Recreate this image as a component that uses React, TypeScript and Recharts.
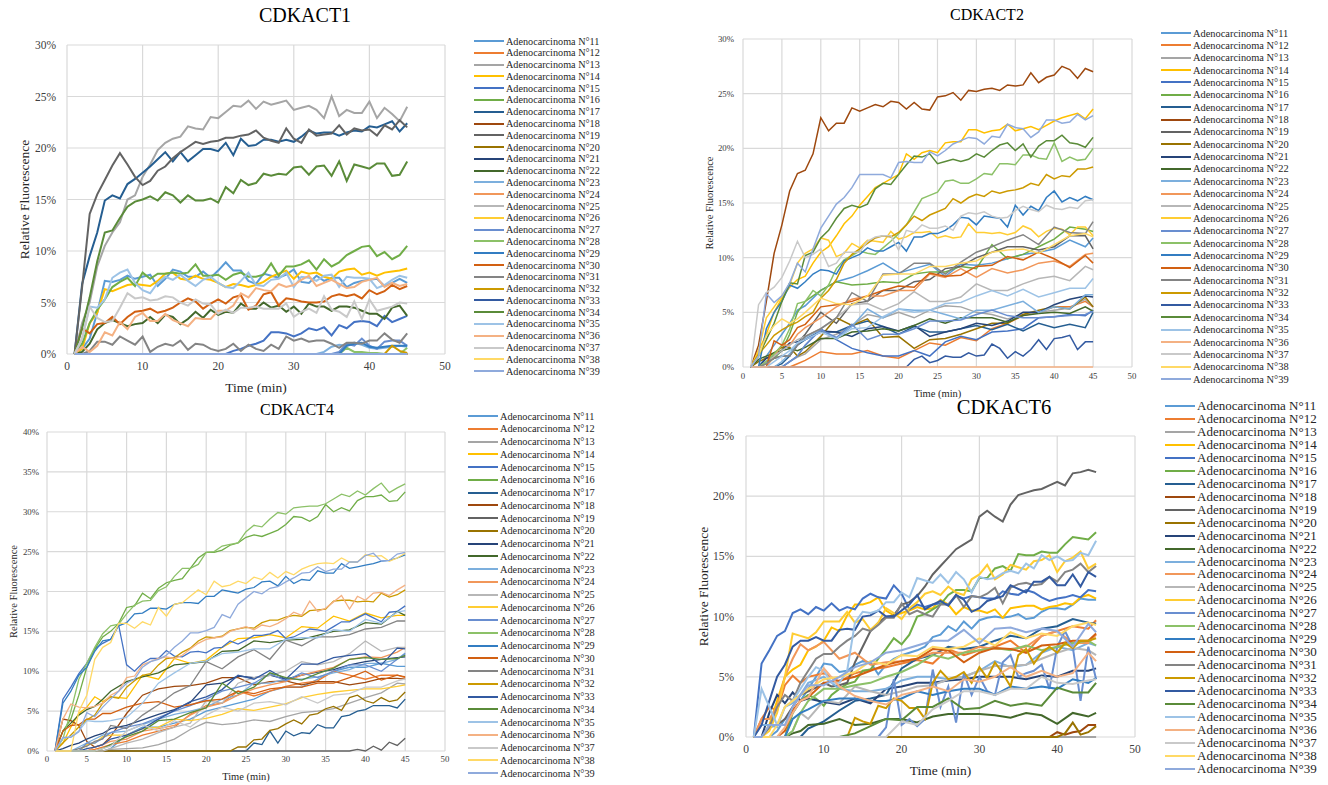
import { LineChart, Line, XAxis, YAxis, CartesianGrid } from 'recharts'

const patients = [11, 12, 13, 14, 15, 16, 17, 18, 19, 20, 21, 22, 23, 24, 25, 26, 27, 28, 29, 30, 31, 32, 33, 34, 35, 36, 37, 38, 39]
const lineColors = ['#5B9BD5', '#ED7D31', '#A5A5A5', '#FFC000', '#4472C4', '#70AD47', '#255E91', '#9E480E', '#636363', '#997300', '#264478', '#43682B', '#7CAFDD', '#F1975A', '#B7B7B7', '#FFCD33', '#698ED0', '#8CC168', '#327DC2', '#D26012', '#848484', '#CC9A00', '#335AA1', '#5A8B39', '#9DC3E6', '#F4B183', '#C9C9C9', '#FFD966', '#8FAADC']

// series with 27 values are read at these minutes, the others are the last minutes up to 45 (zero before that)
const sparseMinutes = [1, 2, 3, 4, 5, 6, 7, 8, 10, 12, 14, 16, 18, 20, 22, 24, 26, 28, 30, 32, 34, 36, 38, 40, 42, 44, 45]

// CDKACT1
const a1n11 = [.5,1.5,4,7.1,7,7.2,7.6,7.3,7.5,7.7,6.6,7.3,8.2,8,7.5,7.5,8,7.4,8.1,8.9,8.1,8.1,7.1,6.8,7.8,7.6,7.4,7.7,8.2,7,6.9,7.6,7.1,7.4,7.4,6.5,6.9,7.1,7.2,7.3,6.6,6.9,7.3,6.9]
const a1n13 = [3,5,8.5,10.5,11.8,12.8,15,15.4,17.2,18.4,19.8,20.5,20.9,21.1,22.1,21.9,21.8,23,22.9,23.5,24.1,24,24.6,23.8,24.5,24.2,24.4,24.6,23.7,23.9,24.1,23.7,22.9,25,23.1,23.7,23.4,23.4,24.5,22.9,23.9,23.3,22.6,24]
const a1n14 = [.5,3,4,6.3,6.1,6.4,6.7,6.8,6.7,6.6,7.1,7.8,7.9,7.3,7.2,7.6,7.3,7.2,6.9,6.5,6.8,6.7,6.5,6.7,7,7.5,7.8,8.1,7.3,8,7.8,7.9,7.5,7.3,8,8.2,8.3,7.7,7.9,7.6,7.9,8,8.1,8.3]
const a1n15 = [.3,.5,.8,1,1.3,2.1,2.1,2,1.7,2,2.5,2.3,2.6,1.8,2.8,2.5,3.1,3.2,3.1,2.7,3.7,3.1,3.4,3.7]
const a1n16 = [1,3,4.3,5.3,6.5,7,7.4,6.6,7.9,7.3,7.8,7.8,7.9,7.8,7.9,8.7,7.6,7.6,7.7,7.2,7.7,7.9,7.5,7.5,7.7,8.8,7.6,8.5,8.5,8.7,9.1,8.2,9.2,8.5,8.9,9.6,10,10.4,10.5,9.5,9.9,9.2,9.6,10.5]
const a1n17 = [6.8,9.5,11.8,14.9,15.4,15.1,16.5,17,17.6,18.2,18.9,19.6,18.7,19.6,18.7,19.3,19.9,19.9,19.7,20.5,19.3,20.9,20.2,20.3,20.8,20.8,20.6,20.8,20.6,21.1,21.7,21.4,21.5,21.5,21.2,21.5,21.7,21.6,22.1,22,22.3,22.6,21.6,22.4]
const a1n19 = [6.5,13.6,15.5,16.9,18.3,19.5,18.4,17.2,16.4,16.8,17.8,18.2,19,19.6,20.1,20.6,20.4,20.6,20.7,21,21,21.2,21.3,21.7,21,20.7,20.5,21.9,20.9,20.5,21.8,21.2,21.3,21.4,22.2,21.3,21.9,21.7,21.8,21.2,22.2,21.8,22.7,22]
const a1n22 = [.2,1,2.4,3,3.3,3,2.7,2.9,3,3.6,3,3.8,3.6,2.9,3.4,4.1,3.5,4.3,3.8,4.1,4,4.9,4.4,4.4,5,4.5,4.7,4.1,4.6,3.9,4.9,4.6,4.6,4.2,4.6,4.6,4.5,4.2,3.9,3.9,3.4,4.5,4.7,3.7]
const a1n23 = [.2,.7,.9,.8,1.1,.9,.6,.5,.6,.7,.8,.7]
const a1n27 = [.2,1,.8,1.5,.8,.5,1.2,1.3,1.3,.8]
const a1n28 = [.6,.2,.2,.1,.1,0,0,0,.6]
const a1n29 = [.8,1,1.1,.7,.6,.7,.8,.8,.8]
const a1n30 = [2.5,2,2.9,3,3.6,2.9,3.6,4.1,4.2,4.4,4,4.2,4.5,5,5.4,5.1,4.4,4.9,5.3,4.9,5.5,5.7,4.3,4.7,5.8,6,4.7,5.4,5.3,5.1,5,5,5.1,5.6,5.8,5.6,5.8,5.4,6.2,5.8,6.1,6.7,6.3,6.6]
const a1n31 = [0,.3,1.2,1.2,.9,1.7,1.3,.9,1.7,.2,.7,1,.8,1.3,.4,1,.9,.5,.3,.5,1,.3,.9,.5,.3,.9,.5,1.7,1.3,1.5,1.2,1.3,1.3,1,.6,1.1,1.1,1,1.3,1.3,2,1.4,1.1,2]
const a1n32 = [0,.8,.3,.1]
const a1n34 = [2.5,5.5,9,11.8,12,13.2,14.3,14.8,15,15.3,14.9,15.7,15.4,14.7,15.4,14.9,14.9,15.1,14.7,16.2,15.6,16.9,16.4,16.6,17.5,17.3,17.5,17.4,18.1,18.2,17.4,18.2,18.3,17.3,18.7,16.8,18.4,18.2,18,18.5,18.5,17.3,17.4,18.7]
const a1n35 = [1.5,4.6,4.5,5.3,7.4,7.9,8.2,6.9,6.2,5.9,6.9,7.5,7.2,7.7,7.1,6.6,7.2,7.5,6.9,6.5,6.4,7.1,7.9,6.7,6.6,7.2,7.3,7.9,6.5,7.5,7.4,7.1,7.6,7.7,6.5,7.5,7.4,7.4,7.3,6.4,6.7,7.2,7.6,7.4]
const a1n36 = [.7,.2,.8,2.1,1.8,3.1,2.4,3.6,4,3.2,3.2,3.9,3.3,3,2.7,3.5,3.4,3.4,4.2,4.2,4.7,5.9,5.5,6.4,6.2,6.1,6.8,6.5,6.7,7.2,7.6,6.6,6.9,7.2,6.8,6.4,6.5,7,7.2,7.4,6.5,6.9,6.6,6.8]
const a1n37 = [1.5,4.6,3.5,3.1,3.2,4.5,5.9,5.4,5.5,5.2,5.3,5.6,5.5,5,4.7,5.3,4.9,4.8,3.9,4.3,4,4.5,4.5,4.6,4.4,4.4,4.4,4.9,3.6,4.1,4.4,4,5.6,4.3,4.1,3.6,5.1,3.4,5.3,4.2,4.4,4.6,5,4.9]
const act1Series = [a1n11, [], a1n13, a1n14, a1n15, a1n16, a1n17, [], a1n19, [], [], a1n22, a1n23, [], [], [], a1n27, a1n28, a1n29, a1n30, a1n31, a1n32, [], a1n34, a1n35, a1n36, a1n37, [], []]

// CDKACT2
const a2n11 = [0,0,1,2,3,4,5.2,5.6,7,7.8,8.2,8.8,9.5,8.6,9,9.4,8.3,9.4,9.3,9.5,9.9,10.3,10.5,10.8,11.6,11,11.8]
const a2n12 = [0,0,0,0,0,0,.3,.6,1.4,1.2,1.2,1.5,1,.8,1.5,2.2,2,2.7,2.4,3.5,4,4.7,5,5.5,5.5,6,5.5]
const a2n13 = [0,0,0,0,0,.5,.9,1.2,2.5,3,3.8,4.8,4.5,5,4.5,5.2,5.6,5.5,5,4.8,4.4,4.8,5,5.2,5.4,6.2,5.5]
const a2n14 = [1.5,3,5,6.3,7.3,8,8.3,9.5,10.5,11,12,13.1,13.8,14.8,15.6,16.4,16.8,17.2,17.6,19.5,19,19.6,19.8,19.6,20.5,20.6,20.6,21.7,21.7,21.4,21.6,21.7,22.2,21.6,21.8,22,21.7,22.1,22.5,22.8,23,23.2,22.7,23.6]
const a2n15 = [0,0,0,0,0,.5,1,2,3.5,2.5,1.7,1.3,1,1,1.5,1,2.3,2.8,2.5,3.2,3.3,3.5,4.5,4.6,4.8,4.7,5.2]
const a2n16 = [0,0,.3,.8,1.5,3,5,6,7,7.8,7.5,7.6,7.8,7.7,8.5,8.7,8.7,9.2,9,11.2,9.9,10.3,11,11.7,12.8,12.6,12.4]
const a2n17 = [0,0,0,0,.3,1,2,2.5,3.2,3.2,3.8,4.2,3.7,3,3.7,3.2,3.2,3.5,3.8,3.4,3.9,3.3,4,3.6,3.9,3.6,5]
const a2n18 = [2,6,10.4,13,16.1,17.7,18,19.5,22.8,21.6,22.3,22.3,23.7,23.4,23.7,24,23.8,24.3,24.2,23.6,24.2,23.6,23.5,24.7,24.8,25.1,24.4,25.3,25.2,25.4,25.5,25.3,25.8,25.7,25.8,26.9,26,26.5,26.7,27.5,27.2,26.4,27.3,27]
const a2n19 = [0,0,.5,.8,1,1,2.2,3,5,4,5.8,6,7,7,7.8,8,9,9.2,10,10.5,11,11,10.7,11,12,12,10.8]
const a2n20 = [0,.5,.8,1.3,1.8,1.8,1,1.4,2.8,4.5,3.8,4.4,2.7,2.8,1.7,2.5,2.6,3,3.5,4,4,4.8,5.2,5.5,5.3,6.4,5.5]
const a2n21 = [0,0,.8,1,1.5,2.2,2.3,2.5,3.3,3.2,2.8,3.5,3.7,3.3,3.8,2.8,3.2,3.5,4,3.8,4.2,5,5,5.7,6.2,6.5,6.4]
const a2n22 = [0,.7,1,1.3,1.5,1.7,1.5,1.8,2.6,2.6,3.2,3.3,3.5,3.3,3.8,4.4,4,4.5,4.5,4.5,4.1,4.7,4.9,5,4.9,5.5,5.1]
const a2n23 = [0,0,0,0,.5,1.2,2.2,2.7,3.4,2.6,3.7,5.3,4.5,5.3,5.2,5.2,4.8,4.4,5.2,5.2,5.6,6,5,5.5,5.3,6.6,6.6]
const a2n24 = [0,0,0,1,2,2,3,3.6,4.5,5.5,6.2,6.5,6.5,7,7,8.5,8.2,9,8.2,9,8.6,8.9,9.5,9.7,9.2,10.3,10.4]
const a2n25 = [0,0,.5,1,1.5,2,2.5,2.8,3.5,4.5,5.7,5.8,5.2,5.8,6.9,6,6,6.4,7.6,7,7,7.6,8.1,8.3,7.9,9.2,8.9]
const a2n26 = [1.5,4.5,5.5,6.5,7.5,9.5,10.4,10.8,11.8,11.6,10.1,10.4,11.3,10.9,11.6,11.5,11.4,12.4,11.7,11.9,12.3,12.3,12.4,11.8,12,11.8,11.9,13.1,12.3,12.3,12.2,12.3,12.1,12.3,12.9,12.6,11.9,12.4,12.7,12.6,12.1,12.8,12.8,12]
const a2n27 = [0,0,0,0,0,.5,1,2,3.4,2.7,3.9,2.5,3,3,3.5,4.2,4.2,4.3,4.8,5.2,4.7,4.5,4.5,4.6,4.7,4.8,5.1]
const a2n28 = [.5,1.2,2,3.5,5.8,6,7,6.5,7.5,9,9.8,10.2,10.6,10.4,10.3,10.9,11.5,12.2,13,14.2,15.4,15.7,16,17,17.1,16.8,16.8,17.2,17.7,17.6,18.6,18.6,18.5,19.4,19.4,19.1,19,20.5,18.8,19.2,18.9,19,20]
const a2n29 = [3.5,5,6,7.5,7.2,7.8,8.5,8.9,8.8,8.5,9.7,10,10.3,10.9,10.6,10.6,11,11.4,10.6,11.9,11.9,12.2,12.2,12.5,13,13.7,13.6,13,13.8,13.7,13.6,12.8,14.8,13.9,14.7,14.3,15.5,16.1,15.1,15.5,15.2,15.6,15.3]
const a2n30 = [0,0,0,2.4,2,2.5,3.6,3.9,5.5,5.7,6,6.5,7,7.4,7.3,8.6,8.3,8.4,9.2,9.3,10.1,9.8,10.5,9.9,9.1,10.2,9.5]
const a2n31 = [0,0,.3,.8,1,1,2,2.8,3.5,4.5,6.8,6,8.5,8.5,9.5,9.5,8.5,9.6,10.5,11,11.6,12.1,11.2,12.8,12.3,12.2,13.3]
const a2n32 = [1.2,2,2.9,3.4,3.8,4.1,4.6,5,6.3,7,8,9.5,10.3,10.8,11.3,11.8,12,11.9,12.3,13,13.8,13.4,13.9,14.2,14.5,15.4,15,15.5,15.8,15.6,16.1,15.9,16.1,16.2,16.4,16.8,16.6,17.6,17.2,17.5,17.4,18.1,18.1,18.3]
const a2n33 = [.7,1,.4,.6,1,.9,.9,1.3,1,1.1,2.1,1.7,.8,1.4,1,1.6,2.5,1.6,2.6,2.7,2.9,1.6,2.3,2.3]
const a2n34 = [1,2.5,4,6,7.7,7.6,10.2,10.5,11.8,12.5,13.6,14.5,14.8,14.6,14.9,16.3,16.8,16.7,17.6,18.5,19.3,19.2,19.5,18.6,18.8,19,18.8,19,19.5,19.2,19.8,20.3,20.5,19.8,20.4,19.2,20.2,20.7,20.7,21.2,20.5,20.4,20.1,21]
const a2n35 = [0,0,0,.5,1,1.5,2.2,2.5,3.2,2.6,3.5,3.6,4.6,5.3,5,5.2,5.8,5.9,6.5,7,6.5,7.1,6.4,6.8,7.2,7.2,8.1]
const a2n37 = [5.7,6.8,7.3,8.2,9.7,11.5,10,10.3,10.8,9.2,9.5,10.5,10.5,10.5,11.5,11.9,12,12,10.7,12.5,12.3,13,12.7,12.7,12.9,12.5,13.8,14.1,14,14.2,13.8,13.6,13.7,14.3,14.7,14.4,14.2,14.8,14.5,14.4,14.6,14.5,15.2,15.3]
const a2n38 = [0,1,2.9,3.8,4.4,4,4.4,5,6.3,5.8,5.7,6.5,8.4,8.5,8.5,9.2,9.2,9.5,9.7,10.5,10.7,10.8,10.4,11.2,12,12.2,11.9]
const a2n39 = [1,6.7,5.9,6.5,7.7,9.5,8.7,10.8,12.7,13.8,14.9,15.5,16.4,17.6,17.6,17.6,17.6,17.3,18.7,18.8,18.7,18.7,19.7,19.3,19.8,20.4,20.7,21,20.9,20.4,21.1,21,22.2,21.9,21.8,21,21.5,22.6,22.6,22.3,22.4,23.1,22.6,23]
const act2Series = [a2n11, a2n12, a2n13, a2n14, a2n15, a2n16, a2n17, a2n18, a2n19, a2n20, a2n21, a2n22, a2n23, a2n24, a2n25, a2n26, a2n27, a2n28, a2n29, a2n30, a2n31, a2n32, a2n33, a2n34, a2n35, [], a2n37, a2n38, a2n39]

// CDKACT4
const a4n11 = [0,0,0,0,0,0,0,.3,2,3,3,3.5,4,5,5.5,6,6.5,7.5,8,8,9,10,10.5,10.5,11,10.6,10.6]
const a4n12 = [0,0,0,0,0,.2,.5,.8,1.2,2,2.5,3,4.6,5.7,6,7.5,6.9,7.5,8.1,8.5,8.8,10,9.5,9,9.5,9.5,9.2]
const a4n13 = [0,0,0,0,0,0,0,.2,.3,.4,.8,1.5,2.7,3.6,3.3,3.5,3.9,3.7,4.3,4.8,5,5.3,6,6.7,7.3,8.5,8.4]
const a4n14 = [0,1,3,4.7,5.5,6.8,6.2,6.8,6.6,9.5,9,11.6,11,11.4,13,14.1,14.2,14.6,14.2,15.6,15.4,16.9,16.3,17.3,16.7,17,17]
const a4n15 = [6.5,8,9.7,11,12.8,13.5,14,15.8,10.8,10,11,11.6,11.6,12.6,11.9,11.8,12.4,12.5,12.3,12.9,13,13.8,13.4,13.9,14.5,14.5,14.7,15.1,14.1,14.3,14.8,15.3,15.2,15,15.6,16.2,16.2,16.7,17.2,16.7,16.2,17.4,17.5,18.2]
const a4n16 = [2.5,4,7,10.5,12.8,14.3,15,16,18,18.2,19.8,19.1,20.4,21.1,21.4,21.6,22.9,24.2,24.9,24.9,25.2,25.8,26.1,26.8,27.1,26.9,27.3,27.7,28.4,29.4,29.3,28.8,29.4,30.9,30,30.5,30.1,31.4,31.9,31.9,32.1,31.3,31.4,32.5]
const a4n17 = [1,.8,2.5,1,2.5,1.9,2.3,2.2,3.3,2.9,2.9,4.3,4.5,5,5.2,5.7,5.7,5.7,5.4,6.5]
const a4n18 = [0,4,3.8,3.2,1.2,.5,.8,1.8,4.7,7,7.8,8.1,8.2,8.5,9.2,9.2,8.3,8.7,8.8,8.3,8.7,8.7,8.3,8.6,9.1,9.1,9]
const a4n19 = [.2,0,.6,.1,1.1,.7,1.6]
const a4n20 = [.5,.5,1.4,1.5,2.6,2.8,3.4,3.9,3.4,4.5,4.7,5.3,5.6,5.1,6.7,7,6.3,6,6.7,6.2,6.4,7.4]
const a4n21 = [0,.3,.7,1,1.5,1.9,2.2,2.8,3.2,3.9,4.6,5.2,6.1,8.3,8.5,9.4,9.2,9.5,9,9.5,9.9,10.2,10.8,11.2,11.5,11.7,11.8]
const a4n22 = [0,2.5,3.5,4.5,5.2,5.6,6.5,7.5,8.7,9.3,9.8,10.8,11,11.2,12.5,12.6,13.8,13.6,13.9,14,14.5,15,15.2,16.1,15.9,17.5,17]
const a4n23 = [0,0,0,.5,1,1.5,2,2.3,2.5,3.3,4,4.6,5,5.5,6.5,7,8.5,8.5,9,9,9.3,9.8,10.2,11,11,11.5,12.3]
const a4n24 = [0,0,0,0,0,.5,.8,1.2,1.5,2.5,2.8,3.2,4.5,5.5,6,7,7.8,8.3,8.7,9.5,10,10.5,11.5,11.8,11.7,12.4,13]
const a4n25 = [0,0,0,0,0,0,0,.3,1,1.5,2.3,3,3.5,6.3,6,8.5,9.2,9.5,10,11.2,10.8,11.2,12.2,13.8,12.5,13,13]
const a4n26 = [0,0,0,0,.8,1,1.8,2,2,2.8,3,4,3.8,4.1,4.6,5.3,5.1,5.5,5.9,6.7,7.1,7.4,7.6,7.8,7.8,8.1,8.3]
const a4n27 = [0,0,0,0,1,1,1.6,2.3,3,3.4,4.2,5,5.7,6.5,7.5,8,8.5,9.7,8.8,9.8,9.2,10,10.8,10.8,10,11.5,12.2]
const a4n28 = [1.5,5,9,11,13,14.7,15.7,15.9,17.2,18.3,18.8,18.9,20.1,20.6,21.9,22.9,22.9,23.4,24.9,25,25.7,25.9,26.1,27.5,28.3,28.1,29.1,29.9,29.7,30.5,30.6,30.7,30.7,31,31.6,32.2,31.9,32.6,32.1,32.9,33.6,32.4,33,33.5]
const a4n29 = [6,7.5,9.5,10.5,12.5,13.8,14,15.7,16.1,17.2,17.3,17.9,17.9,17.8,18.4,18.6,18.6,18.5,19.4,19.4,20.2,20,19.8,20.3,20.5,21.2,21.3,20.7,21.9,21,21.5,21.4,22.6,22.3,22.3,23.5,22.9,23.1,23.3,23.5,23.8,23.9,24.2,24.6]
const a4n30 = [0,2.5,3.2,3.3,4,4,4.7,4.7,5.5,6,6.2,5.5,5.8,6.3,6.5,7.5,7.2,7.8,8,8,8.5,8.5,9.2,10,8.9,9.5,9.3]
const a4n31 = [0,0,0,.3,.6,1.2,1.5,3.2,2.8,4.5,5.8,7.3,8.2,11.2,10.3,11.8,12.7,11.5,13.9,13.2,14.3,14.3,14.6,15.3,15.5,16.3,16.3]
const a4n32 = [1,2,3,3.9,4.5,6,6.8,6.6,8,8.8,9.5,9.7,10.8,11.6,11.7,12.4,12.9,13.8,14.3,14.2,14.4,15.1,15.3,15.5,15.4,16.1,16.4,16.4,16.8,17,16.9,17.6,17.7,17.8,18.8,18.9,18.9,18.7,18.8,18.7,19.8,19.3,19.6,20.2]
const a4n33 = [0,0,0,0,.3,.5,.8,1.5,2,2.8,4,5.1,6.2,6.8,7.7,9.5,9,10.1,9,10.9,10.9,11.7,12,12.2,10.8,12.9,12.8]
const a4n34 = [0,0,0,0,0,0,.3,.8,1.8,2.5,3.8,4,4.8,5.4,8.5,7.2,8,9.8,9.2,8.9,9.7,10.4,11.5,11.7,11.5,11.6,12]
const a4n35 = [0,1.6,1.8,2.5,3.8,3.7,3.7,3.8,4.2,6,8.5,9.8,11,11.3,12.2,12.4,12.8,12.8,14,14.2,14.2,15.2,15,16.5,16,17.4,17.6]
const a4n36 = [4,5.9,5.5,5.4,5.6,6,7,7.5,9.2,9.4,10.8,11.2,11.6,11.8,11.6,12,12.8,13.5,14,14.2,14.3,15,15.3,15.6,15.2,15.8,15.6,16,16.6,17.4,17,18.8,17.5,17.9,18.7,19.5,17.8,19.4,18.9,19.8,19.9,19.5,20.2,20.8]
const a4n37 = [0,0,0,0,0,0,.3,.6,2.5,3.3,2.5,3.8,3,4.5,5.5,5,6,6.2,5.8,6.8,6,7,7.2,8,8,8.8,9]
const a4n38 = [0,5,7,11.5,13,13.6,16,16,15.4,16.2,15.8,18,16.9,18.4,18.6,19.4,20.2,19.6,21.3,20.6,20.8,21.3,21,21.8,21.5,22.4,21.7,22.5,22.1,22.8,23.2,23.5,23.6,23.5,24.2,23.7,23.7,24.6,24.4,24.5,23.8,24.2,24.8]
const a4n39 = [1.7,1.7,2.4,4.8,4.3,5.5,6.5,7.5,8.5,9,10.5,11.2,11.5,12,13,13.8,14.8,14.8,15.1,15.5,17.1,16.7,18.4,19.2,20,19.7,20.4,20.6,21.2,21.7,22.3,22.4,23.1,22.5,22.8,22.8,23.7,23.7,24.5,24.8,23.8,23.9,24.7,24.9]
const act4Series = [a4n11, a4n12, a4n13, a4n14, a4n15, a4n16, a4n17, a4n18, a4n19, a4n20, a4n21, a4n22, a4n23, a4n24, a4n25, a4n26, a4n27, a4n28, a4n29, a4n30, a4n31, a4n32, a4n33, a4n34, a4n35, a4n36, a4n37, a4n38, a4n39]

// CDKACT6
const a6n11 = [0,0,0,.5,1.5,2,3,4,5,6.1,6,5.4,5.5,6,6.3,6.2,5.2,6,6.5,6.8,7,7.2,7.5,8.3,8.5,9.2,8.8,9.6,9,9.7,9.9,10,9.9,10,10.2,9.8,9.9,10.4,10.7,10.7,10.6,11,11.5,11.4,11.4]
const a6n12 = [0,1.5,2.5,2.2,4.3,5.1,4.5,5,5.3,4.6,5.3,5.6,5.8,6.1,6.4,6.1,7.3,6.8,7.2,7.5,8,7,8.4,8.8,9.2,9,9.7]
const a6n14 = [0,0,1,3,5,5.6,6,7.2,7.5,8,9.1,8.8,10.1,11,11,11.2,11.6,10.5,10.1,10.3,10.5,10.8,10.6,10.7,11.4,11,10.2,10.8,10.5,10.5,10.3,10.6,9.9,10.7,10.8,10.9,10.9,10.6,10.8,10.9,11.1,11,11.6,11.8,11.5]
const a6n15 = [6.1,7.2,8.4,8.8,10.3,10.6,10.2,10.8,10.5,11.1,10.5,10.8,10.6,11.5,11.9,11.6,11.5,12.6,11.9,10.6,11,10.8,11,11.1,11,11.7,11.5,11.7,11.6,11.5,11.5,12.1,11.9,11.8,12.2,12,11.6,11.3,11.5,11.6,11.8,11.6,12.2,12.1]
const a6n16 = [2,3,3.5,3.2,2.6,3.5,4,4.4,4.6,5.5,5.6,6.5,7.3,8.2,7.7,8.5,10,10.2,10.6,11,11.8,12.2,12.2,12.1,13.2,13.2,14,14.2,13.8,15.2,15.1,15.1,15.4,15.3,15.3,16,16.6,16.5,16.4,17]
const a6n17 = [0,0,0,0,0,0,0,.7,1.3,2.2,3,3.2,3.5,5.7,6.5,6.8,7.5,7.3,7.5,8,8.4,8.2,9,9.2,9.8,9.5,9.4]
const a6n18 = [.4,.2,.4,.5,1,1]
const a6n19 = [0,.8,1,1.5,2.5,3.5,3.8,4.1,4.5,4.2,4.3,4.5,6.2,7.5,8.8,9.5,10,10.1,11,11.2,11.7,12.5,13.5,14.2,14.9,15.6,16,16.4,18.3,18.8,18.3,17.9,19.3,20.1,20.3,20.5,20.6,20.9,21.2,20.9,21.9,22,22.2,22]
const a6n20 = [.3,1.2,.2,.4,.9]
const a6n21 = [0,0,2,3.5,2.8,3.7,3,3.2,2.9,2.7,3.2,2.8,4,4.2,4.5,4.5,4.7,4.8,5,5,5,4.8,5.1,5,5.5,5.5,5.7]
const a6n22 = [0,0,0,0,0,.3,.5,1,1.1,1.5,1,1.1,1.5,1.5,1.2,1.7,1.9,1.9,1.9,1.8,1.6,2,1.8,1.1,2,1.7,2]
const a6n23 = [0,1,1,.8,2.5,2.8,3.5,4.5,5,4,3.8,3.8,4,4.7,5,5,4.8,5,5.5,6.3,5.8,6,7,7.5,7.2,7.8,7.6]
const a6n24 = [0,1.5,1.5,2.5,5,6.5,7.7,7.2,7.9,6.5,7,6,6.2,6.3,6.5,7,7,7,7.5,7.3,7.3,7.5,8.4,8.8,7.8,7.8,8.5]
const a6n25 = [0,0,0,0,0,.5,2,1.5,3,2.8,4.2,3.8,3.5,3.8,4.2,4.3,4.8,5,5.5,5.9,5.9,6,6.5,7,7.4,7.2,6.8]
const a6n26 = [0,.5,2,5,8.6,8.4,8.2,8.7,9.6,9.6,9.6,10.4,9.5,9.8,8.9,9.5,10.7,10.3,9.8,10.7,11.2,11.9,12.1,11.8,12.5,12,11.8,13.1,13.5,14.3,13.1,13.5,14.3,14.1,13.9,14.6,14.7,15.1,13.7,14.6,14.9,15.4,14,14.4]
const a6n27 = [0,.8,4.8,1,1.5,.9,1.5,5.6,2.5,4.2,1.2,5.3,3.5,5,3.8,3.5,6.2,6.8,5,5.3,5.5,6,4,7.5,8.8,7.5,3,7.5,4.8]
const a6n28 = [0,0,0,0,0,.5,2,3,4,4,4.3,4.5,5,5.4,6,6.8,6.5,7,7.2,7.4,7.2,7.6,7.2,7.5,7.8,8,7.6]
const a6n29 = [0,0,0,0,0,1.5,2,2.3,3,3.2,3.2,3,3,3.2,3.8,3.5,3.8,4,4,3.5,4.2,4,4.2,4,4.8,4.5,4.9]
const a6n30 = [0,0,0,0,.5,2.2,3,3.3,4.5,4.7,5,5.5,6,6.3,6.5,7.3,7.2,6.2,7,7.4,7.3,7,7.6,7.7,8,8,8.6]
const a6n31 = [0,.8,2.5,3.5,3,4.5,5.5,6.5,6.9,6.9,7.5,8,8.4,9,8.8,9.3,9.9,9.9,11.1,10.2,10.5,10.2,10,11,11,11.8,10.8,11.7,11.6,11.9,12.4,11.1,12.4,12.7,12.8,12.6,12.7,13.3,12.9,13.7,13.9,14.4,13.7,14.2]
const a6n32 = [1.6,1.3,1.1,2.6,2.4,3.2,3,2.4,2.4,1.5,4.5,5.5,4.8,5,5.4,4.5,5.8,4.9,6.2,5.3,4.2,6.8,7.3,6.1,7,7.5,7,7.8,7.4,8,8,8.2]
const a6n33 = [1,3,5,6,7.5,8,8,8.3,8,8,8.9,9,8.9,10,10.1,10.5,10,10,10.5,11,11.8,10.6,11,11.3,10.9,11.8,11.4,10.4,10.7,11.3,11.5,11.7,12.6,12.3,12,12.9,12.9,13.3,12.6,12.6,13.5,12.5,13.7,13.3]
const a6n34 = [0,0,0,0,0,0,0,0,0,0,.3,.9,1.5,1.4,2.5,2.5,3.2,2.3,2.4,3,2.6,2.8,2.6,4.1,3.7,3.7,4.5]
const a6n35 = [4,2.5,1,2.5,3,4,5,5.8,5.5,4.5,4.5,5.5,9.5,10.4,10.3,10.5,11.2,11.2,12,11.6,13.2,13,12.8,13.5,12.8,13.7,13.1,12,13.3,13.1,13.2,13.6,13.8,13.6,14.4,14,15.1,14.7,15,14.6,14.7,15.3,15.1,16.3]
const a6n36 = [0,0,0,0,.8,2,3,3.3,5.7,4.2,3.4,3,2.7,3.5,3.8,4.2,3.8,4.8,4.6,5,5.8,5,5.5,5,5.3,7,6.3]
const a6n37 = [0,0,0,0,0,0,0,0,0,0,0,0,0,1.3,1,2.3,3,3.8,3.8,3.5,4,4,5,4.5,4.4,4.7,4.8]
const a6n38 = [0,0,0,1,2.5,3,3.5,4,4.8,5,5.4,6.3,6,6.8,6.7,7.5,7.3,7.5,8.2,7.6,8.7,8.2,8.6,8.4,9.2,9.5,9.3]
const a6n39 = [0,0,1,1,1,2.5,3.5,4.3,4.3,5,5.8,6.2,7,7.2,7.6,8,8,8.9,7.8,9,9.1,8.7,9,8.8,7.5,9.4,8.7]
const act6Series = [a6n11, a6n12, [], a6n14, a6n15, a6n16, a6n17, a6n18, a6n19, a6n20, a6n21, a6n22, a6n23, a6n24, a6n25, a6n26, a6n27, a6n28, a6n29, a6n30, a6n31, a6n32, a6n33, a6n34, a6n35, a6n36, a6n37, a6n38, a6n39]

const toPoints = (values: number[]) => {
	if (values.length === 27) {
		return values.map((y, i) => ({ x: sparseMinutes[i], y }))
	}
	const start = 46 - values.length
	const head = start > 1 ? [{ x: 1, y: 0 }, { x: start - 1, y: 0 }] : []
	return [...head, ...values.map((y, i) => ({ x: start + i, y }))]
}

const panels = [
	{ title: 'CDKACT1', series: act1Series, xTicks: [0, 10, 20, 30, 40, 50], yTicks: [0, 5, 10, 15, 20, 25, 30], left: 67, right: 445, top: 45, bottom: 354, titleX: 305, titleY: 15, titleSize: 20, tickSize: 11.5, labelSize: 13.5, tickGapY: 11, tickGapX: 8, yTitleGap: 43, xTitleOffset: 12, lineWidth: 2, legendX: 474, legendFirst: 41, legendStep: 11.79, legendSize: 10.2 },
	{ title: 'CDKACT2', series: act2Series, xTicks: [0, 5, 10, 15, 20, 25, 30, 35, 40, 45, 50], yTicks: [0, 5, 10, 15, 20, 25, 30], left: 743, right: 1132, top: 39, bottom: 367, titleX: 987, titleY: 15, titleSize: 16, tickSize: 8.8, labelSize: 10.5, tickGapY: 9, tickGapX: 6, yTitleGap: 34, xTitleOffset: 20, lineWidth: 1.5, legendX: 1161, legendFirst: 33, legendStep: 12.36, legendSize: 10.4 },
	{ title: 'CDKACT4', series: act4Series, xTicks: [0, 5, 10, 15, 20, 25, 30, 35, 40, 45, 50], yTicks: [0, 5, 10, 15, 20, 25, 30, 35, 40], left: 47, right: 445, top: 432, bottom: 751, titleX: 297, titleY: 410, titleSize: 16, tickSize: 8.8, labelSize: 10.5, tickGapY: 8, tickGapX: 5, yTitleGap: 34, xTitleOffset: 21, lineWidth: 1.3, legendX: 468, legendFirst: 416, legendStep: 12.75, legendSize: 10.3 },
	{ title: 'CDKACT6', series: act6Series, xTicks: [0, 10, 20, 30, 40, 50], yTicks: [0, 5, 10, 15, 20, 25], left: 746, right: 1135, top: 436, bottom: 737, titleX: 1004, titleY: 407, titleSize: 20.5, tickSize: 11.5, labelSize: 13.5, tickGapY: 12, tickGapX: 8, yTitleGap: 43, xTitleOffset: 12, lineWidth: 2, legendX: 1165, legendFirst: 406, legendStep: 12.96, legendSize: 13 }
]

const serif = "'Liberation Serif', serif"
const pad = { axisW: 60, axisH: 50, top: 12, right: 12 }

type Panel = (typeof panels)[number]

function PanelLegend({ panel }: { panel: Panel }) {
	return (
		<>
			{patients.map((n, i) => (
				<div
					key={n}
					style={{
						position: 'absolute',
						left: panel.legendX,
						top: panel.legendFirst + i * panel.legendStep - 8,
						height: 16,
						display: 'flex',
						alignItems: 'center',
						whiteSpace: 'nowrap',
						fontSize: panel.legendSize,
						color: '#262626'
					}}
				>
					<span style={{ width: 30, height: 2, marginRight: 2, background: lineColors[i] }} />
					{`Adenocarcinoma N°${n}`}
				</div>
			))}
		</>
	)
}

function PanelChart({ panel }: { panel: Panel }) {
	const plotW = panel.right - panel.left
	const plotH = panel.bottom - panel.top
	const yTitleX = pad.axisW - panel.yTitleGap
	const yTitleY = pad.top + plotH / 2

	return (
		<div style={{ position: 'absolute', left: panel.left - pad.axisW, top: panel.top - pad.top }}>
			<LineChart
				width={plotW + pad.axisW + pad.right}
				height={plotH + pad.top + pad.axisH}
				margin={{ top: pad.top, right: pad.right, left: 0, bottom: 0 }}
			>
				<CartesianGrid stroke='#d9d9d9' strokeWidth={1.2} />
				<XAxis
					dataKey='x'
					type='number'
					domain={[0, 50]}
					ticks={panel.xTicks}
					height={pad.axisH}
					tickSize={0}
					tickMargin={panel.tickGapX}
					tickLine={false}
					axisLine={false}
					interval={0}
					tick={{ fontSize: panel.tickSize, fill: '#404040', fontFamily: serif }}
					label={{ value: 'Time (min)', position: 'insideBottom', offset: panel.xTitleOffset, fontSize: panel.labelSize, fill: '#262626', fontFamily: serif }}
				/>
				<YAxis
					type='number'
					domain={[0, panel.yTicks[panel.yTicks.length - 1]]}
					ticks={panel.yTicks}
					width={pad.axisW}
					tickSize={0}
					tickMargin={panel.tickGapY}
					tickLine={false}
					axisLine={false}
					interval={0}
					tickFormatter={(v: number) => `${v}%`}
					tick={{ fontSize: panel.tickSize, fill: '#404040', fontFamily: serif }}
					label={{
						content: () => (
							<text
								x={yTitleX}
								y={yTitleY}
								transform={`rotate(-90 ${yTitleX} ${yTitleY})`}
								textAnchor='middle'
								dominantBaseline='central'
								fontSize={panel.labelSize}
								fontFamily={serif}
								fill='#262626'
							>
								Relative Fluorescence
							</text>
						)
					}}
				/>
				{panel.series.map((values, i) => (
					<Line
						key={patients[i]}
						data={toPoints(values)}
						dataKey='y'
						name={`Adenocarcinoma N°${patients[i]}`}
						type='linear'
						stroke={lineColors[i]}
						strokeWidth={panel.lineWidth}
						dot={false}
						isAnimationActive={false}
					/>
				))}
			</LineChart>
		</div>
	)
}

function App() {
	return (
		<div style={{ position: 'absolute', left: 0, top: 0, width: 1328, height: 785, overflow: 'hidden', background: '#fff', fontFamily: serif }}>
			{panels.map((panel) => (
				<div key={panel.title}>
					<PanelChart panel={panel} />
					<PanelLegend panel={panel} />
					<div
						style={{
							position: 'absolute',
							left: panel.titleX - 60,
							width: 120,
							top: panel.titleY - 15,
							height: 30,
							lineHeight: '30px',
							textAlign: 'center',
							fontSize: panel.titleSize,
							color: '#000'
						}}
					>
						{panel.title}
					</div>
				</div>
			))}
		</div>
	)
}

export default App
